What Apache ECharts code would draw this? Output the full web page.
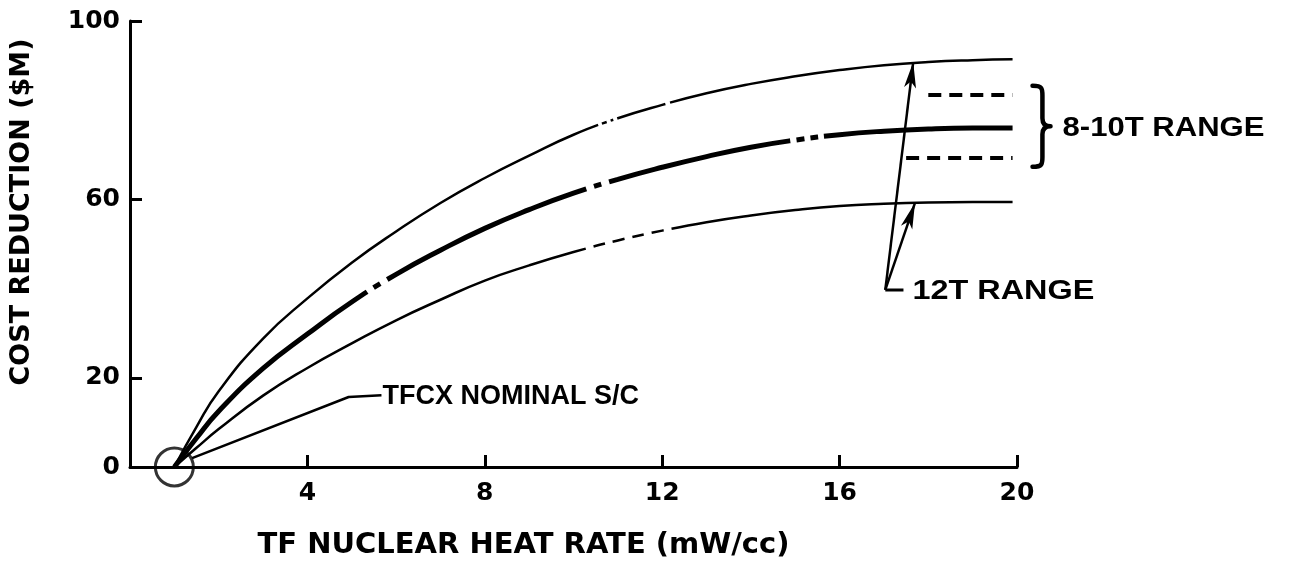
<!DOCTYPE html>
<html><head><meta charset="utf-8">
<script src="https://cdn.jsdelivr.net/npm/echarts@6/dist/echarts.min.js"></script>
<style>html,body{margin:0;padding:0;background:#fff}#c{width:1303px;height:566px}</style>
</head><body><div id="c"></div>
<script>
// ---- data ----
const xValues      = [1, 1.5, 2, 3, 4, 5, 6, 7, 8, 9, 10, 11, 12, 13, 14, 15, 16, 17, 18, 19, 19.9];
const upperCurve   = [0, 9.0, 17.0, 28.8, 37.8, 45.8, 52.8, 59.2, 64.8, 69.8, 74.5, 78.2, 81.2, 83.8, 85.9, 87.6, 89.0, 90.1, 90.8, 91.2, 91.4];
const nominalCurve = [0, 6.5, 12.5, 22.1, 29.8, 37.0, 43.2, 48.6, 53.5, 57.7, 61.4, 64.5, 67.2, 69.6, 71.7, 73.3, 74.5, 75.3, 75.8, 76.0, 76.0];
const lowerCurve   = [0, 4.3, 8.5, 16.0, 22.2, 27.7, 32.9, 37.5, 41.8, 45.2, 48.2, 50.8, 53.0, 54.9, 56.4, 57.6, 58.5, 59.0, 59.3, 59.4, 59.4];
const rangeHighDash = [[18.0, 83.4], [19.9, 83.4]];
const rangeLowDash  = [[17.5, 69.3], [19.9, 69.3]];
const rangeBrace    = [[20.35, 85.5, 67.3]];
const originMarker  = [[1, 0]];
const tfcxLeader    = [[1.4, 2.0], [4.93, 15.7], [5.67, 16.1]];
const arrowBase     = [17.03, 39.7];
const arrowTips     = [[17.66, 90.8], [17.70, 59.2]];
const arrowFoot     = [[17.03, 39.7], [17.44, 39.7]];
const xTickValues   = [4, 8, 12, 16, 20];
const yLabelValues  = [0, 20, 60, 100];
const yTickValues   = [20, 60, 100];
const labels = {
  xTitle: 'TF NUCLEAR HEAT RATE (mW/cc)',
  yTitle: 'COST REDUCTION ($M)',
  nominal: 'TFCX NOMINAL S/C',
  range810: '8-10T RANGE',
  range12: '12T RANGE'
};

const FONT = 'Liberation Sans';
const WIDE = 'DejaVu Sans';
const pair = (xs, ys) => xs.map((x, i) => [x, ys[i]]);

const chart = echarts.init(document.getElementById('c'), null, {renderer: 'canvas'});
const option = {
  animation: false,
  backgroundColor: '#fff',
  grid: {left: 128, right: 286, top: 21, bottom: 99, containLabel: false},
  xAxis: {
    type: 'value', min: 0, max: 20, interval: 4,
    axisLine: {lineStyle: {color: '#000', width: 3}},
    axisTick: {inside: true, length: 12, lineStyle: {color: '#000', width: 3}, customValues: xTickValues},
    axisLabel: {customValues: xTickValues, color: '#000', fontFamily: WIDE, fontWeight: 'bold', fontSize: 25, margin: 14},
    splitLine: {show: false},
    name: labels.xTitle, nameLocation: 'middle', nameGap: 64,
    nameTextStyle: {color: '#000', fontFamily: WIDE, fontWeight: 'bold', fontSize: 29, padding: [0, 100, 0, 0]}
  },
  yAxis: {
    type: 'value', min: 0, max: 100, interval: 20,
    axisLine: {lineStyle: {color: '#000', width: 3}},
    axisTick: {inside: true, length: 12, lineStyle: {color: '#000', width: 3}, customValues: yTickValues},
    axisLabel: {customValues: yLabelValues, color: '#000', fontFamily: WIDE, fontWeight: 'bold', fontSize: 25, margin: 10},
    splitLine: {show: false},
    name: labels.yTitle, nameLocation: 'middle', nameGap: 95, nameRotate: 90,
    nameTextStyle: {color: '#000', fontFamily: WIDE, fontWeight: 'bold', fontSize: 27, padding: [0, 0, 0, 64]}
  },
  series: [
    {type: 'line', data: pair(xValues, upperCurve), smooth: 0.5, showSymbol: false, symbol: 'none',
     lineStyle: {color: '#000', width: 2.5, type: [557, 4, 5, 4, 3, 4, 50, 5, 1000, 10]}},
    {type: 'line', data: pair(xValues, nominalCurve), smooth: 0.5, showSymbol: false, symbol: 'none',
     lineStyle: {color: '#000', width: 5, type: [262, 8, 8, 8, 219, 8, 8, 8, 186, 6, 8, 6, 8, 6, 1000, 10]}},
    {type: 'line', data: pair(xValues, lowerCurve), smooth: 0.5, showSymbol: false, symbol: 'none',
     lineStyle: {color: '#000', width: 2.5, type: [470, 8, 12, 8, 12, 8, 12, 8, 12, 8, 1000, 10]}},
    {type: 'line', data: rangeHighDash, symbol: 'none', lineStyle: {color: '#000', width: 4, type: [13, 8]}},
    {type: 'line', data: rangeLowDash, symbol: 'none', lineStyle: {color: '#000', width: 4, type: [13, 8]}},
    {type: 'line', data: tfcxLeader, symbol: 'none', lineStyle: {color: '#000', width: 2.5}},
    {type: 'line', data: arrowFoot, symbol: 'none', lineStyle: {color: '#000', width: 3},
     markLine: {
       silent: true, symbol: ['none', 'arrow'], symbolSize: [9, 26], label: {show: false},
       lineStyle: {color: '#000', width: 2.5, type: 'solid'},
       data: arrowTips.map(t => [{coord: arrowBase}, {coord: t}])
     }},
    {type: 'scatter', data: originMarker, symbol: 'circle', symbolSize: 38,
     itemStyle: {color: 'rgba(0,0,0,0)', borderColor: '#000', borderWidth: 3}},
    {type: 'custom', data: rangeBrace, silent: true,
     renderItem: function (params, api) {
       const top = api.coord([api.value(0), api.value(1)]);
       const bot = api.coord([api.value(0), api.value(2)]);
       const bx = top[0], by0 = top[1], by1 = bot[1], bw = 18, bh = by1 - by0, bym = (by0 + by1) / 2, cx = bx + bw * 0.55;
       const d = [
         'M', bx, by0,
         'C', cx, by0, cx, by0 + 3, cx, by0 + bh * 0.12,
         'L', cx, bym - bh * 0.1,
         'C', cx, bym - 3, bx + bw * 0.7, bym, bx + bw, bym,
         'C', bx + bw * 0.7, bym, cx, bym + 3, cx, bym + bh * 0.1,
         'L', cx, by1 - bh * 0.12,
         'C', cx, by1 - 3, cx, by1, bx, by1
       ].join(' ');
       return {type: 'path', shape: {pathData: d}, style: {fill: 'none', stroke: '#000', lineWidth: 4.5, lineCap: 'round', lineJoin: 'round'}};
     }}
  ]
};
chart.setOption(option);

// text annotations anchored to data coordinates
const px = p => chart.convertToPixel({gridIndex: 0}, p);
const leaderEnd = px(tfcxLeader[tfcxLeader.length - 1]);
const midEnd = px([19.9, nominalCurve[nominalCurve.length - 1]]);
const foot = px(arrowFoot[1]);
const textStyle = (t) => ({text: t, fill: '#000', font: 'bold 27px "' + FONT + '"', verticalAlign: 'middle', align: 'left'});

chart.setOption({
  graphic: [
    {type: 'text', x: leaderEnd[0] + 1, y: leaderEnd[1] + 1, style: textStyle(labels.nominal)},
    {type: 'text', x: midEnd[0] + 50, y: midEnd[1] + 1, style: textStyle(labels.range810), scaleX: 1.15, originX: 0},
    {type: 'text', x: foot[0] + 9, y: foot[1] + 2, style: textStyle(labels.range12), scaleX: 1.2, originX: 0}
  ]
});
</script>
</body></html>
